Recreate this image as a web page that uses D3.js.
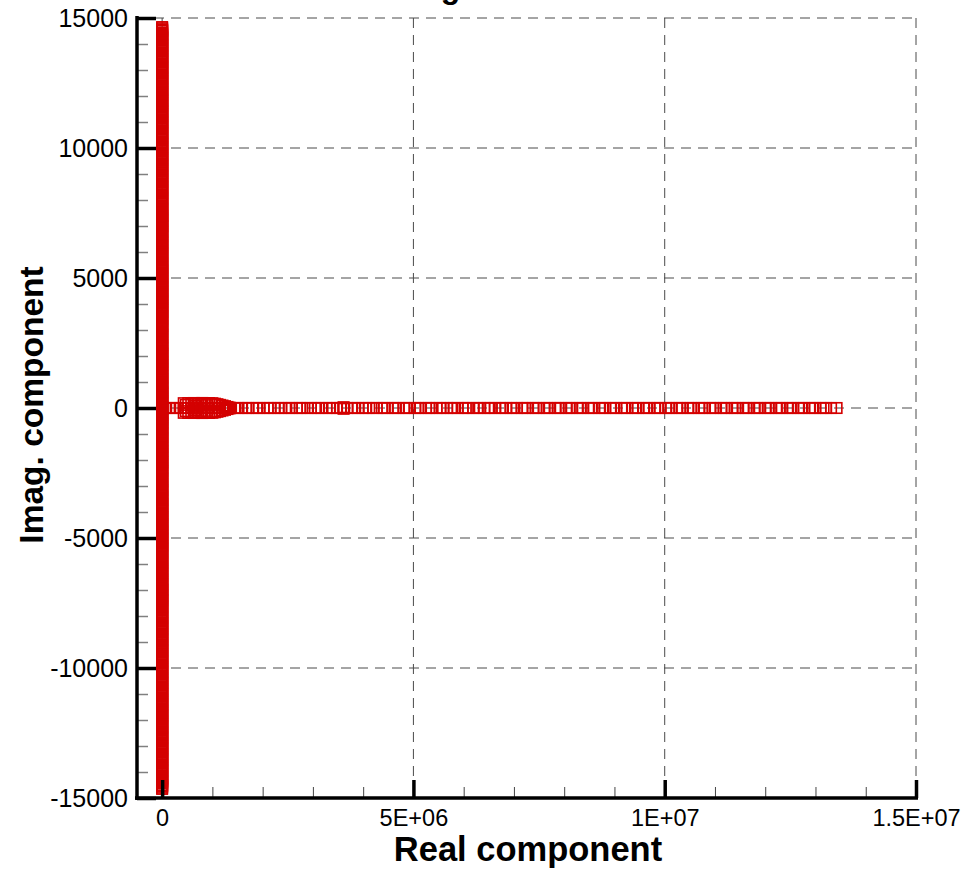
<!DOCTYPE html>
<html>
<head>
<meta charset="utf-8">
<script src="https://cdn.jsdelivr.net/npm/d3@7/dist/d3.min.js"></script>
<style>
  html, body { margin: 0; padding: 0; background: #fff; }
  svg { display: block; font-family: "Liberation Sans", Arial, Helvetica, sans-serif; }
</style>
</head>
<body>
<svg id="chart" width="964" height="872"></svg>
<script>
// ---------------- data ----------------
const chartTitle = "Eigenvalues";
const xAxisTitle = "Real component";
const yAxisTitle = "Imag. component";

const xTickValues = [0, 5e6, 1e7, 1.5e7];
const xTickLabels = ["0", "5E+06", "1E+07", "1.5E+07"];
const yTickValues = [-15000, -10000, -5000, 0, 5000, 10000, 15000];
const yTickLabels = ["-15000", "-10000", "-5000", "0", "5000", "10000", "15000"];

// eigenvalues on the imaginary axis (real part ~0), listed by positive imaginary part (conjugate pairs)
const columnImag = [
  60, 140, 210, 330, 400, 470, 590, 650, 760, 820, 910, 1030, 1090, 1160, 1280, 1340, 1430, 1510,
  1620, 1680, 1770, 1860, 1930, 2050, 2110, 2190, 2300, 2370, 2440, 2560, 2620, 2710, 2800, 2870,
  2990, 3040, 3130, 3240, 3300, 3390, 3480, 3560, 3650, 3710, 3820, 3900, 3970, 4080, 4150, 4220,
  4330, 4400, 4490, 4570, 4650, 4740, 4820, 4890, 5000, 5060, 5150, 5260, 5320, 5410, 5500, 5570,
  5680, 5740, 5830, 5920, 5990, 6100, 6160, 6250, 6340, 6410, 6520, 6580, 6670, 6760, 6830, 6940,
  7000, 7090, 7180, 7250, 7360, 7420, 7510, 7600, 7670, 7780, 7840, 7930, 8020, 8090, 8200, 8260,
  8350, 8440, 8510, 8620, 8680, 8770, 8860, 8930, 9040, 9100, 9190, 9280, 9350, 9460, 9520, 9610,
  9700, 9770, 9880, 9940, 10030, 10120, 10190, 10300, 10360, 10450, 10540, 10610, 10720, 10780,
  10870, 10960, 11030, 11140, 11200, 11290, 11380, 11450, 11560, 11620, 11710, 11800, 11870, 11980,
  12040, 12130, 12220, 12290, 12400, 12460, 12550, 12640, 12710, 12820, 12880, 12970, 13060, 13130,
  13240, 13300, 13390, 13480, 13550, 13660, 13720, 13810, 13900, 13970, 14080, 14140, 14230, 14320,
  14390, 14500, 14560, 14650,
  35, 175, 265, 365, 435, 525, 620, 705, 865, 960, 1125, 1215, 1390, 1560, 1725, 1895, 2080, 2255,
  2405, 2665, 2835, 3085, 3185, 3435, 3605, 3775, 3935, 4115, 4275, 4445, 4615, 4785, 4945, 5105,
  5365, 5525, 5785, 5955, 6205, 6375, 6625, 6795, 6985, 7135, 7305, 7465, 7635, 7885, 8055, 8305,
  8475, 8725, 8895, 9145, 9315, 9565, 9735, 9985, 10155, 10405, 10575, 10825, 10995, 11245, 11415,
  11665, 11835, 12085, 12255, 12505, 12675, 12925, 13095, 13345, 13515, 13765, 13935, 14185, 14355,
  14605,
  100, 300, 555, 790, 990, 1250, 1470, 1650, 1810, 1990, 2160, 2340, 2510, 2750, 2930, 3160, 3350,
  3525, 3690, 3860, 4040, 4190, 4365, 4530, 4700, 4860, 5035, 5205, 5290, 5455, 5625, 5870, 6050,
  6290, 6460, 6710, 6880, 7050, 7215, 7390, 7555, 7720, 7980, 8140, 8390, 8560, 8810, 8980, 9230,
  9400, 9650, 9820, 10070, 10240, 10490, 10660, 10910, 11080, 11330, 11500, 11750, 11920, 12170,
  12340, 12590, 12760, 13010, 13180, 13430, 13600, 13850, 14020, 14270, 14440, 14530
];

// eigenvalues on the real axis (imaginary part 0)
const horizontalReal = [
  0.06e6, 0.14e6, 0.22e6, 0.29e6, 0.37e6, 0.45e6, 0.52e6, 0.60e6, 0.68e6, 0.75e6, 0.83e6, 0.90e6,
  0.98e6, 1.05e6, 1.13e6, 1.21e6, 1.28e6, 1.36e6, 1.44e6,
  1.52e6, 1.58e6, 1.67e6, 1.71e6, 1.80e6, 1.88e6, 1.93e6, 2.02e6, 2.10e6, 2.15e6, 2.23e6, 2.31e6,
  2.37e6, 2.45e6, 2.53e6, 2.58e6, 2.68e6, 2.74e6, 2.79e6, 2.89e6, 2.96e6, 3.04e6, 3.11e6, 3.17e6,
  3.27e6, 3.33e6, 3.40e6, 3.48e6, 3.55e6, 3.62e6, 3.68e6, 3.77e6, 3.83e6, 3.90e6, 3.99e6, 4.05e6,
  4.12e6, 4.20e6, 4.27e6, 4.37e6, 4.42e6, 4.48e6, 4.59e6, 4.64e6, 4.70e6, 4.81e6, 4.86e6, 4.92e6,
  5.03e6, 5.09e6, 5.14e6, 5.25e6, 5.31e6, 5.36e6, 5.46e6, 5.53e6, 5.59e6, 5.67e6, 5.75e6, 5.81e6,
  5.88e6, 5.98e6, 6.04e6, 6.09e6, 6.19e6, 6.27e6, 6.32e6, 6.41e6, 6.49e6, 6.54e6, 6.62e6, 6.72e6,
  6.77e6, 6.84e6, 6.94e6, 6.99e6, 7.06e6, 7.16e6, 7.22e6, 7.27e6, 7.38e6, 7.44e6, 7.49e6, 7.60e6,
  7.66e6, 7.71e6, 7.82e6, 7.88e6, 7.93e6, 8.04e6, 8.10e6, 8.15e6, 8.26e6, 8.32e6, 8.37e6, 8.48e6,
  8.54e6, 8.59e6, 8.70e6, 8.76e6, 8.81e6, 8.92e6, 8.98e6, 9.03e6, 9.14e6, 9.20e6, 9.25e6, 9.36e6,
  9.42e6, 9.47e6, 9.58e6, 9.64e6, 9.69e6, 9.80e6, 9.86e6, 9.91e6, 10.02e6, 10.08e6, 10.13e6,
  10.24e6, 10.30e6, 10.35e6, 10.46e6, 10.52e6, 10.57e6, 10.68e6, 10.74e6, 10.79e6, 10.90e6,
  10.96e6, 11.01e6, 11.12e6, 11.18e6, 11.23e6, 11.34e6, 11.40e6, 11.45e6, 11.56e6, 11.62e6,
  11.67e6, 11.78e6, 11.84e6, 11.89e6, 12.00e6, 12.06e6, 12.11e6, 12.22e6, 12.28e6, 12.33e6,
  12.44e6, 12.50e6, 12.55e6, 12.66e6, 12.72e6, 12.77e6, 12.88e6, 12.94e6, 12.99e6, 13.10e6,
  13.16e6, 13.21e6, 13.31e6, 13.42e6
];

// complex conjugate pairs [real, |imag|] near the origin
const clusterPoints = [
  [0.43e6, 185], [0.47e6, 120], [0.52e6, 190], [0.58e6, 160], [0.63e6, 192], [0.66e6, 90],
  [0.71e6, 188], [0.76e6, 140], [0.80e6, 193], [0.85e6, 175], [0.89e6, 110], [0.93e6, 190],
  [0.98e6, 160], [1.00e6, 182], [1.05e6, 165], [1.10e6, 145], [1.15e6, 120], [1.20e6, 95],
  [1.25e6, 70], [1.30e6, 40], [1.34e6, 15], [3.61e6, 30]
];

// ---------------- chart ----------------
const svg = d3.select("#chart");
const pLeft = 137, pRight = 916, pTop = 18, pBottom = 798;

const x = d3.scaleLinear().domain([-0.5e6, 1.5e7]).range([pLeft, pRight]);
const y = d3.scaleLinear().domain([-15000, 15000]).range([pBottom, pTop]);

const gridColor = "#4a4a4a";
const red = "#d40000";

// grid lines
const grid = svg.append("g");
grid.selectAll("line.hg").data(yTickValues.filter(v => v > -15000)).enter().append("line")
  .attr("x1", pLeft).attr("x2", pRight)
  .attr("y1", d => y(d)).attr("y2", d => y(d))
  .attr("stroke", gridColor).attr("stroke-width", 1).attr("stroke-dasharray", "10,7");
grid.selectAll("line.vg").data(xTickValues).enter().append("line")
  .attr("x1", d => x(d)).attr("x2", d => x(d))
  .attr("y1", pTop).attr("y2", pBottom)
  .attr("stroke", gridColor).attr("stroke-width", 1).attr("stroke-dasharray", "10,7");

// points
const pts = [];
columnImag.forEach(v => { pts.push([0, v]); pts.push([0, -v]); });
horizontalReal.forEach(v => pts.push([v, 0]));
clusterPoints.forEach(p => { pts.push([p[0], p[1]]); pts.push([p[0], -p[1]]); });

const ms = 10.5;
svg.append("g").selectAll("rect").data(pts).enter().append("rect")
  .attr("x", d => x(d[0]) - ms / 2)
  .attr("y", d => y(d[1]) - ms / 2)
  .attr("width", ms).attr("height", ms)
  .attr("fill", "none")
  .attr("stroke", red)
  .attr("stroke-width", 1.6);

// minor ticks
const xMinor = d3.range(1e6, 1.5e7, 1e6).filter(v => v % 5e6 !== 0);
const yMinor = d3.range(-14000, 15000, 1000).filter(v => v % 5000 !== 0);

const xMinorAxis = d3.axisBottom(x).tickValues(xMinor).tickSize(-11).tickFormat("").tickSizeOuter(0);
const yMinorAxis = d3.axisLeft(y).tickValues(yMinor).tickSize(-11).tickFormat("").tickSizeOuter(0);

const gxm = svg.append("g").attr("transform", `translate(0,${pBottom})`).call(xMinorAxis);
gxm.select(".domain").remove();
gxm.selectAll(".tick line").attr("stroke", "#444").attr("stroke-width", 1);

const gym = svg.append("g").attr("transform", `translate(${pLeft},0)`).call(yMinorAxis);
gym.select(".domain").remove();
gym.selectAll(".tick line").attr("stroke", "#808080").attr("stroke-width", 1.5);

// major axes
const xAxis = d3.axisBottom(x).tickValues(xTickValues)
  .tickFormat((d, i) => xTickLabels[i]).tickSize(-18).tickSizeOuter(0).tickPadding(11);
const yAxis = d3.axisLeft(y).tickValues(yTickValues)
  .tickFormat((d, i) => yTickLabels[i]).tickSize(-19).tickSizeOuter(0).tickPadding(9);

const gx = svg.append("g").attr("transform", `translate(0,${pBottom})`).call(xAxis);
gx.select(".domain").attr("stroke", "#000").attr("stroke-width", 3.5)
  .attr("d", `M${pLeft - 2},0H${pRight + 2}`);
gx.selectAll(".tick line").attr("stroke", "#000").attr("stroke-width", 3.5);
gx.selectAll(".tick text").attr("fill", "#000").style("font-size", "23.5px")
  .style("font-family", '"Liberation Sans", Arial, sans-serif');

const gy = svg.append("g").attr("transform", `translate(${pLeft},0)`).call(yAxis);
gy.select(".domain").attr("stroke", "#000").attr("stroke-width", 3.5)
  .attr("d", `M0,${pTop - 2}V${pBottom + 2}`);
gy.selectAll(".tick line").attr("stroke", "#000").attr("stroke-width", 3.5);
gy.selectAll(".tick text").attr("fill", "#000").style("font-size", "25px")
  .style("font-family", '"Liberation Sans", Arial, sans-serif');

// titles (the chart title sits mostly above the visible area, as in the reference)
svg.append("text").attr("x", 504).attr("y", -2)
  .attr("text-anchor", "middle").attr("font-weight", "bold").attr("font-size", 32)
  .text(chartTitle);

svg.append("text").attr("x", 528).attr("y", 861)
  .attr("text-anchor", "middle").attr("font-weight", "bold").attr("font-size", 34.5)
  .text(xAxisTitle);

svg.append("text").attr("transform", `translate(43,405) rotate(-90)`)
  .attr("text-anchor", "middle").attr("font-weight", "bold").attr("font-size", 33.5)
  .text(yAxisTitle);
</script>
</body>
</html>
